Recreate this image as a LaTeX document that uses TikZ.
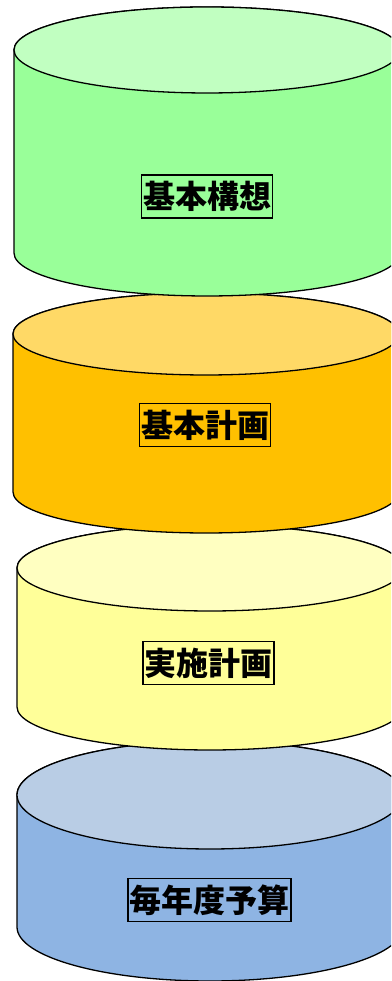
\documentclass[tikz,border=0pt]{standalone}
\usepackage{fontspec}
\newfontfamily\cjk{Noto Sans CJK JP}
\definecolor{gbody}{HTML}{99FF99}
\definecolor{gtop}{HTML}{C1FFC1}
\definecolor{obody}{HTML}{FFC000}
\definecolor{otop}{HTML}{FFD966}
\definecolor{ybody}{HTML}{FFFF99}
\definecolor{ytop}{HTML}{FFFFC1}
\definecolor{bbody}{HTML}{8EB4E3}
\definecolor{btop}{HTML}{B9CDE5}
\newcommand\mycyl[7]{% cx, ytop, ybot, rx, ry, body, top
  \fill[#6,draw=black,line width=1.3pt] (#1-#4,#2) -- (#1-#4,#3)
     arc[start angle=180,end angle=360,x radius=#4,y radius=#5]
     -- (#1+#4,#2) arc[start angle=0,end angle=180,x radius=#4,y radius=#5] -- cycle;
  \fill[#7,draw=black,line width=1.3pt] (#1,#2) ellipse[x radius=#4,y radius=#5];
}
\tikzset{lbl/.style={draw=black,line width=1.1pt,font=\cjk\bfseries\fontsize{32}{32}\selectfont,
  inner xsep=1.5pt,inner ysep=0pt,minimum height=43pt,text=black}}
\begin{document}
\begin{tikzpicture}[x=1pt,y=1pt]
\useasboundingbox (0,0) rectangle (391,981);
\clip (0,0) rectangle (391,981);
\mycyl{210}{186}{54}{193}{54}{bbody}{btop}
\mycyl{210}{413}{274}{193}{43}{ybody}{ytop}
\mycyl{206}{647}{489}{193}{41}{obody}{otop}
\mycyl{207}{931}{728}{193}{43}{gbody}{gtop}
\node[lbl] (n1) at (207,784.5) {基本構想};
\node[lbl] (n2) at (205,556) {基本計画};
\node[lbl] (n3) at (208.5,318) {実施計画};
\node[lbl] (n4) at (209.5,81) {毎年度予算};
\end{tikzpicture}
\end{document}
